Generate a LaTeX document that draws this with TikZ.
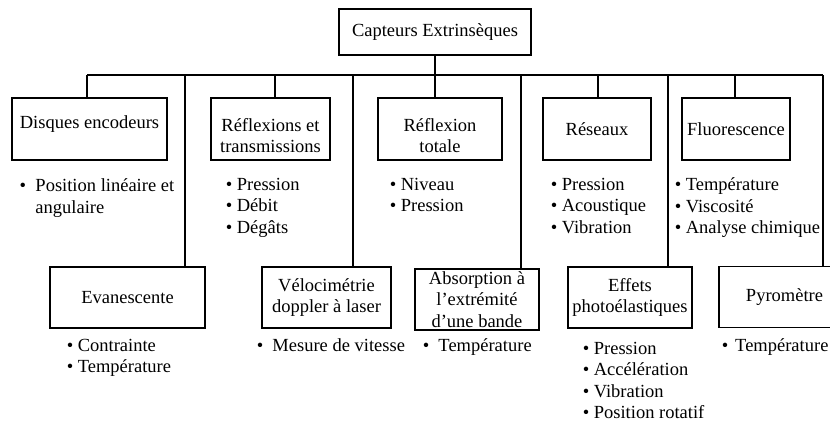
\documentclass[tikz,border=0pt]{standalone}
\usepackage{fontspec}
\setmainfont{Liberation Serif}
\begin{document}
\begin{tikzpicture}[x=1pt,y=-1pt,line width=1.5pt,
    font=\fontsize{18.5}{21.5}\selectfont,
    boite/.style={draw,fill=white,align=center,inner sep=0pt},
    liste/.style={anchor=north west,align=left,inner sep=0pt}]
    \useasboundingbox (0,0) rectangle (830,423);
    \clip (0,0) rectangle (830,423);
    % racine
    \node[boite,minimum width=192,minimum height=46] (racine) at (435,32) {Capteurs Extrinsèques};
    % premiere rangee
    \node[boite,minimum width=155,minimum height=62] (disq) at (89.5,129) {Disques encodeurs\\[-8pt]~};
    \node[boite,minimum width=119,minimum height=62] (refl) at (270.5,129) {\rule{0pt}{26pt}Réflexions et\\transmissions};
    \node[boite,minimum width=124,minimum height=62] (tot) at (440,129) {\rule{0pt}{26pt}Réflexion\\totale};
    \node[boite,minimum width=108,minimum height=62] (res) at (597,129) {Réseaux};
    \node[boite,minimum width=108,minimum height=62] (fluo) at (736,129) {Fluorescence};
    % deuxieme rangee
    \node[boite,minimum width=155,minimum height=61] (evan) at (127.5,297.5) {Evanescente};
    \node[boite,minimum width=129,minimum height=61] (velo) at (326.5,297.5) {Vélocimétrie\\doppler à laser};
    \node[boite,minimum width=124,minimum height=61] (abso) at (477,299.5) {Absorption à\\l’extrémité\\d’une bande};
    \node[boite,minimum width=124,minimum height=61] (eff) at (630,297.5) {Effets\\photoélastiques};
    \node[boite,minimum width=131,minimum height=61] (pyro) at (784.5,297) {Pyromètre};
    % bus
    \coordinate (b1) at (87,75);
    \coordinate (b2) at (185,75);
    \coordinate (b3) at (275,75);
    \coordinate (b4) at (353,75);
    \coordinate (b5) at (435,75);
    \coordinate (b6) at (521,75);
    \coordinate (b7) at (598,75);
    \coordinate (b8) at (668,75);
    \coordinate (b9) at (735,75);
    \coordinate (b10) at (823,75);
    \draw (racine.south -| b5) -- (b5);
    \draw (b1) -- (b10);
    \draw (b1) -- (b1 |- disq.north);
    \draw (b2) -- (b2 |- evan.north);
    \draw (b3) -- (b3 |- refl.north);
    \draw (b4) -- (b4 |- velo.north);
    \draw (b5) -- (b5 |- tot.north);
    \draw (b6) -- (b6 |- abso.north);
    \draw (b7) -- (b7 |- res.north);
    \draw (b8) -- (b8 |- eff.north);
    \draw (b9) -- (b9 |- fluo.north);
    \draw (b10) -- (b10 |- pyro.north);
    % listes
    \node[liste] (ldisq) at (19,178) {•\ \ Position linéaire et\\\hphantom{•\ \ }angulaire};
    \node[liste] (lrefl) at (225,177) {• Pression\\• Débit\\• Dégâts};
    \node[liste] (ltot) at (389,177) {• Niveau\\• Pression};
    \node[liste] (lres) at (550,177) {• Pression\\• Acoustique\\• Vibration};
    \node[liste] (lfluo) at (674,177) {• Température\\• Viscosité\\• Analyse chimique};
    \node[liste] (levan) at (66,338) {• Contrainte\\• Température};
    \node[liste] (lvelo) at (256,338) {•\ \ Mesure de vitesse};
    \node[liste] (labso) at (422,338) {•\ \ Température};
    \node[liste] (leff) at (582,341) {• Pression\\• Accélération\\• Vibration\\• Position rotatif};
    \node[liste] (lpyro) at (721,338) {•\hspace{7pt}Température};
\end{tikzpicture}
\end{document}
